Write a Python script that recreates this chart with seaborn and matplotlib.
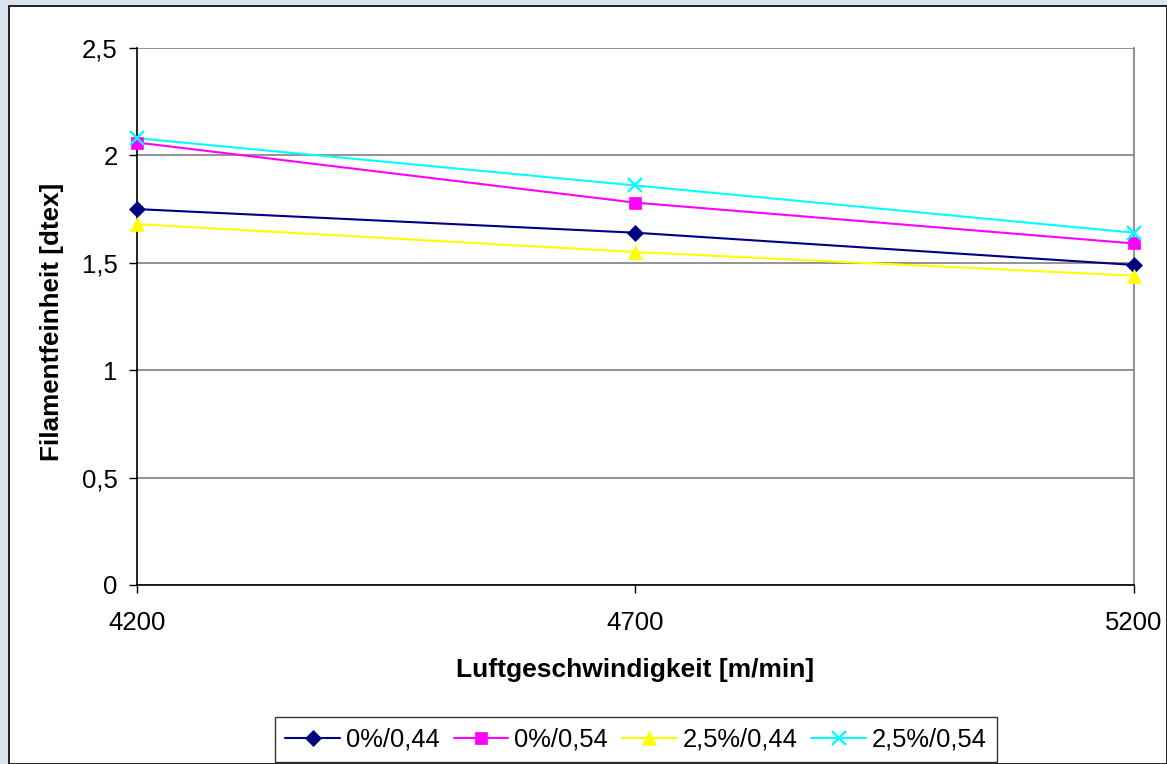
import numpy as np
import pandas as pd
import seaborn as sns
import matplotlib.pyplot as plt
from matplotlib.lines import Line2D
from matplotlib.patches import Rectangle

# Daten
speed = [4200, 4700, 5200]
series_names = ["0%/0,44", "0%/0,54", "2,5%/0,44", "2,5%/0,54"]
s_0_044 = [1.75, 1.64, 1.49]
s_0_054 = [2.06, 1.78, 1.59]
s_25_044 = [1.68, 1.55, 1.44]
s_25_054 = [2.08, 1.86, 1.64]
y_ticks = [0, 0.5, 1, 1.5, 2, 2.5]
y_ticklabels = ["0", "0,5", "1", "1,5", "2", "2,5"]

colors = ["#000080", "#FF00FF", "#FFFF00", "#00FFFF"]
markers = ["D", "s", "^", "x"]
msizes = [8, 8, 10, 10]

rows = []
for name, vals in zip(series_names, [s_0_044, s_0_054, s_25_044, s_25_054]):
    for x, v in zip(speed, vals):
        rows.append({"speed": x, "val": v, "serie": name})
df = pd.DataFrame(rows)

sns.set_style("white")
plt.rcParams['font.family'] = ['Liberation Sans', 'DejaVu Sans']
plt.rcParams['text.color'] = 'black'
plt.rcParams['axes.labelcolor'] = 'black'
plt.rcParams['xtick.color'] = 'black'
plt.rcParams['ytick.color'] = 'black'

fs = 18.5

fig = plt.figure(figsize=(11.67, 7.64), dpi=100)
fig.patch.set_facecolor("#dbe4ec")
# weisser Diagrammbereich
fig.patches.append(Rectangle((9 / 1167, 0), 1 - 9 / 1167, 1 - 6 / 764,
                             transform=fig.transFigure, facecolor="white",
                             edgecolor="black", linewidth=1.2, zorder=-5))

ax = fig.add_axes([137 / 1167, 1 - 585 / 764, (1134 - 137) / 1167, (585 - 48) / 764])
ax.set_zorder(1)
ax.set_facecolor("white")

sns.lineplot(data=df, x="speed", y="val", hue="serie", hue_order=series_names,
             palette=colors, ax=ax, legend=False, linewidth=1.5, zorder=3)
# Marker einzeln setzen
for name, c, m, ms in zip(series_names, colors, markers, msizes):
    sub = df[df.serie == name]
    ax.plot(sub.speed, sub.val, linestyle="none", marker=m, color=c,
            markersize=ms, markeredgewidth=1.7 if m == "x" else 0.5, zorder=4,
            clip_on=False)

ax.set_xlim(4200, 5200)
ax.set_ylim(0, 2.5)
ax.set_xticks(speed)
ax.set_xticklabels([str(s) for s in speed], fontsize=fs)
ax.set_yticks(y_ticks)
ax.set_yticklabels(y_ticklabels, fontsize=fs)
ax.tick_params(axis="both", direction="out", length=6, width=1, color="black",
               bottom=True, left=True)
ax.tick_params(axis="x", pad=13)
ax.tick_params(axis="y", pad=8)

ax.yaxis.grid(True, color="#808080", linewidth=1.2)
ax.set_axisbelow(True)
for s in ["left", "bottom"]:
    ax.spines[s].set_color("black")
    ax.spines[s].set_linewidth(1.2)
ax.spines["top"].set_visible(False)
ax.spines["right"].set_color("#808080")
ax.spines["right"].set_linewidth(1.2)

ax.set_xlabel("Luftgeschwindigkeit [m/min]", fontsize=19, fontweight="bold",
              va="center", ha="center")
ax.set_ylabel("Filamentfeinheit [dtex]", fontsize=18.7, fontweight="bold",
              va="center", ha="center")
ax.xaxis.set_label_coords(0.5, -(670 - 585) / 537)
ax.yaxis.set_label_coords((52 - 137) / 997, (585 - 322) / 537)

handles = [Line2D([0], [0], color=c, marker=m, markersize=ms, linewidth=1.5,
                  markeredgewidth=1.7 if m == "x" else 0.5)
           for c, m, ms in zip(colors, markers, msizes)]
leg = fig.legend(handles, series_names, loc="center", bbox_to_anchor=(636 / 1167, 1 - 739.5 / 764),
                 ncol=4, fontsize=18.4, frameon=True, fancybox=False, handlelength=2.15,
                 handletextpad=0.22, columnspacing=0.55, borderpad=0.4)
leg.get_frame().set_edgecolor("black")
leg.get_frame().set_linewidth(1.0)

fig.savefig("out.png", dpi=100, facecolor=fig.get_facecolor())
